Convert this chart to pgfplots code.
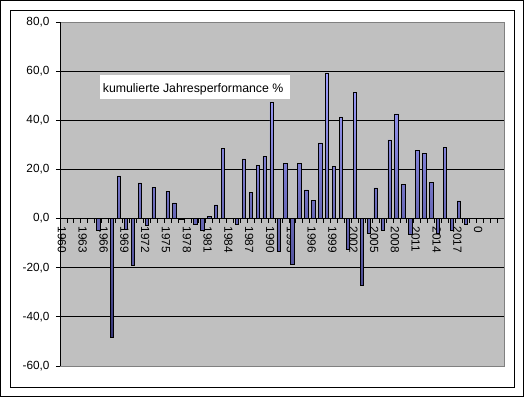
\documentclass[border=0pt]{standalone}
\usepackage{pgfplots}
\pgfplotsset{compat=1.18}
\usepackage{fontspec}
\setmainfont{Liberation Sans}
\definecolor{plotbg}{RGB}{192,192,192}
\definecolor{bartop}{RGB}{160,160,255}
\definecolor{barbot}{RGB}{55,55,120}
\definecolor{bordergray}{RGB}{128,128,128}
\begin{document}
\begin{tikzpicture}[x=1pt,y=1pt]
\begin{axis}[
  at={(60pt,32pt)}, anchor=south west,
  scale only axis, width=444pt, height=344pt,
  xmin=-0.5, xmax=63.5, ymin=-60, ymax=80,
  axis x line*=middle, axis y line*=left,
  hide obscured x ticks=false, hide obscured y ticks=false,
  axis line style={black, line width=0.8pt},
  ytick={-60,-40,...,80},
  yticklabels={{-60,0},{-40,0},{-20,0},{0,0},{20,0},{40,0},{60,0},{80,0}},
  ymajorgrids, grid style={black, line width=0.8pt},
  xtick={-0.5,0.5,...,63.5}, xticklabels={},
  extra x ticks={0,3,...,60},
  extra x tick labels={1960,1963,1966,1969,1972,1975,1978,1981,1984,1987,1990,1993,1996,1999,2002,2005,2008,2011,2014,2017,0},
  extra x tick style={major tick length=0pt, xticklabel style={yshift=-8pt, xshift=-1.5pt, rotate=-90, anchor=west, inner sep=0pt}},
  tick align=outside, major tick length=4pt,
  tick style={black, line width=0.8pt},
  ticklabel style={font=\fontsize{11.8}{13}\selectfont},
  yticklabel style={xshift=-3pt},
  axis background/.style={fill=plotbg},
  clip=false,
]
\addplot[ybar, bar width=3.4pt, draw=black, line width=0.6pt, top color=bartop, bottom color=barbot] coordinates {
(5,-4.9) (7,-48.5) (8,17.4) (9,-4.3) (10,-19.2) (11,14.5) (12,-2.9) (13,12.8) (15,11.2) (16,6.4) (17,-0.5) (19,-2.5) (20,-4.6) (21,1.0) (22,5.6) (23,28.4) (25,-2.5) (26,24.3) (27,10.8) (28,21.8) (29,25.2) (30,47.5) (31,-13.2) (32,22.6) (33,-18.5) (34,22.6) (35,11.7) (36,7.5) (37,30.8) (38,59.3) (39,21.1) (40,41.4) (41,-12.7) (42,51.2) (43,-27.3) (44,-5.8) (45,12.5) (46,-4.7) (47,32.0) (48,42.6) (49,13.8) (50,-6.2) (51,27.7) (52,26.5) (53,14.7) (54,-5.9) (55,28.9) (56,-4.8) (57,7.2) (58,-2.5)
};
\draw[bordergray, line width=0.8pt] (rel axis cs:0,0) rectangle (rel axis cs:1,1);
\draw[black, line width=0.8pt] (rel axis cs:0,0) -- (rel axis cs:0,1);
\end{axis}
\draw[black, line width=0.9pt] (0.5,1.2) rectangle (523.4,397.5);
\draw[black, line width=0.9pt] (10,11) rectangle (514,387.5);
\fill[white] (100,299) rectangle (290,323);
\node[anchor=base west, inner sep=0pt, font=\fontsize{12.3}{14}\selectfont] at (102.7,305) {kumulierte Jahresperformance \%};
\pgfresetboundingbox
\useasboundingbox (0,0) rectangle (525,398);
\end{tikzpicture}
\end{document}
